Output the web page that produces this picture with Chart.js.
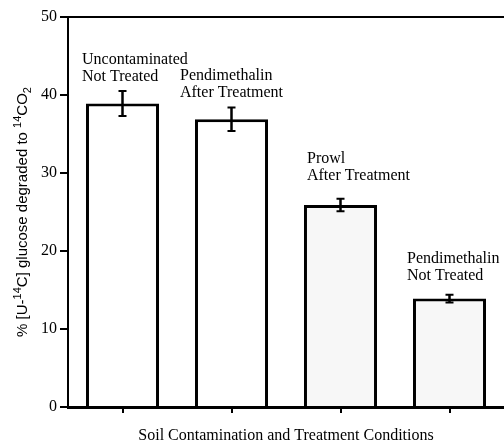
<!DOCTYPE html>
<html>
<head>
<meta charset="utf-8">
<script src="https://cdn.jsdelivr.net/npm/chart.js@4/dist/chart.umd.min.js"></script>
<style>
  html, body { margin: 0; padding: 0; background: #fff; overflow: hidden; }
  #wrap { width: 504px; height: 445px; }
</style>
</head>
<body>
<div id="wrap"><canvas id="myChart"></canvas></div>
<script>
const categories = [
  'Uncontaminated Not Treated',
  'Pendimethalin After Treatment',
  'Prowl After Treatment',
  'Pendimethalin Not Treated',
];
const barLabels = [
  ['Uncontaminated', 'Not Treated'],
  ['Pendimethalin', 'After Treatment'],
  ['Prowl', 'After Treatment'],
  ['Pendimethalin', 'Not Treated'],
];
const degraded = [38.9, 36.9, 25.9, 13.9];
const errors = [1.6, 1.5, 0.8, 0.5];
const yTicks = [0, 10, 20, 30, 40, 50];

// label placement relative to each bar (left edge, top)
const labelDx = [-4, -15, 3, -6];
const labelDy = [-23, -22, -25, -19];
const fills = ['#ffffff', '#ffffff', '#f7f7f7', '#f7f7f7'];

const serif = '"Liberation Serif", "Times New Roman", serif';
const sans = '"Liberation Sans", Arial, sans-serif';

const errorBars = {
  id: 'errorBars',
  afterDatasetsDraw(chart) {
    const { ctx, scales: { y } } = chart;
    const meta = chart.getDatasetMeta(0);
    ctx.save();
    ctx.strokeStyle = '#000';
    meta.data.forEach((bar, i) => {
      const v = degraded[i];
      const yHi = y.getPixelForValue(v + errors[i]);
      const yLo = y.getPixelForValue(v - errors[i]);
      ctx.lineWidth = 2.5;
      ctx.beginPath();
      ctx.moveTo(bar.x, yHi);
      ctx.lineTo(bar.x, yLo);
      ctx.stroke();
      ctx.lineWidth = 2;
      ctx.beginPath();
      ctx.moveTo(bar.x - 4, yHi);
      ctx.lineTo(bar.x + 4, yHi);
      ctx.moveTo(bar.x - 4, yLo);
      ctx.lineTo(bar.x + 4, yLo);
      ctx.stroke();
    });
    ctx.restore();
  },
};

const barText = {
  id: 'barText',
  afterDatasetsDraw(chart) {
    const { ctx } = chart;
    const meta = chart.getDatasetMeta(0);
    ctx.save();
    ctx.fillStyle = '#000';
    ctx.font = '16px ' + serif;
    ctx.textAlign = 'left';
    ctx.textBaseline = 'alphabetic';
    meta.data.forEach((bar, i) => {
      const left = bar.x - bar.width / 2 + labelDx[i];
      const base = bar.y + labelDy[i];
      ctx.fillText(barLabels[i][0], left, base - 17);
      ctx.fillText(barLabels[i][1], left, base);
    });
    ctx.restore();
  },
};

const yTitle = {
  id: 'yTitle',
  afterDraw(chart) {
    const { ctx, chartArea } = chart;
    const parts = [
      ['% [U-', 0, 15],
      ['14', -6, 11],
      ['C] glucose degraded to ', 0, 15],
      ['14', -6, 11],
      ['CO', 0, 15],
      ['2', 4, 11],
    ];
    ctx.save();
    ctx.fillStyle = '#000';
    ctx.textBaseline = 'alphabetic';
    ctx.textAlign = 'left';
    let total = 0;
    parts.forEach((p) => {
      ctx.font = p[2] + 'px ' + sans;
      total += ctx.measureText(p[0]).width;
    });
    ctx.translate(27, (chartArea.top + chartArea.bottom) / 2);
    ctx.rotate(-Math.PI / 2);
    let x = -total / 2;
    parts.forEach((p) => {
      ctx.font = p[2] + 'px ' + sans;
      ctx.fillText(p[0], x, p[1]);
      x += ctx.measureText(p[0]).width;
    });
    ctx.restore();
  },
};

const data = {
  labels: categories,
  datasets: [
    {
      data: degraded,
      backgroundColor: fills,
      borderColor: '#000',
      borderWidth: 3,
      borderSkipped: 'bottom',
      barPercentage: 0.67,
      categoryPercentage: 1,
    },
  ],
};

const config = {
  type: 'bar',
  data: data,
  options: {
    responsive: true,
    maintainAspectRatio: false,
    animation: false,
    layout: { padding: { top: 17, right: 0, bottom: 0, left: 0 } },
    plugins: {
      legend: { display: false },
      tooltip: { enabled: false },
    },
    scales: {
      x: {
        grid: {
          offset: false,
          color: 'rgba(0,0,0,0)',
          tickColor: '#000',
          tickLength: 6,
          lineWidth: 2,
        },
        border: { color: '#000', width: 3 },
        ticks: { display: false },
        title: {
          display: true,
          text: 'Soil Contamination and Treatment Conditions',
          color: '#000',
          font: { family: serif, size: 16 },
          padding: { top: 0, bottom: 0 },
        },
        afterFit(scale) {
          scale.height = 38;
        },
      },
      y: {
        min: 0,
        max: 50,
        afterBuildTicks(scale) {
          scale.ticks = yTicks.map((v) => ({ value: v }));
        },
        grid: {
          color: (c) => (c.tick && c.tick.value === 50 ? '#000' : 'rgba(0,0,0,0)'),
          tickColor: '#000',
          tickLength: 8,
          lineWidth: 2,
        },
        border: { color: '#000', width: 2 },
        ticks: {
          color: '#000',
          padding: 3,
          font: { family: serif, size: 16 },
        },
        afterFit(scale) {
          scale.width = 68;
        },
      },
    },
  },
  plugins: [errorBars, barText, yTitle],
};

const myChart = new Chart(document.getElementById('myChart'), config);
</script>
</body>
</html>
